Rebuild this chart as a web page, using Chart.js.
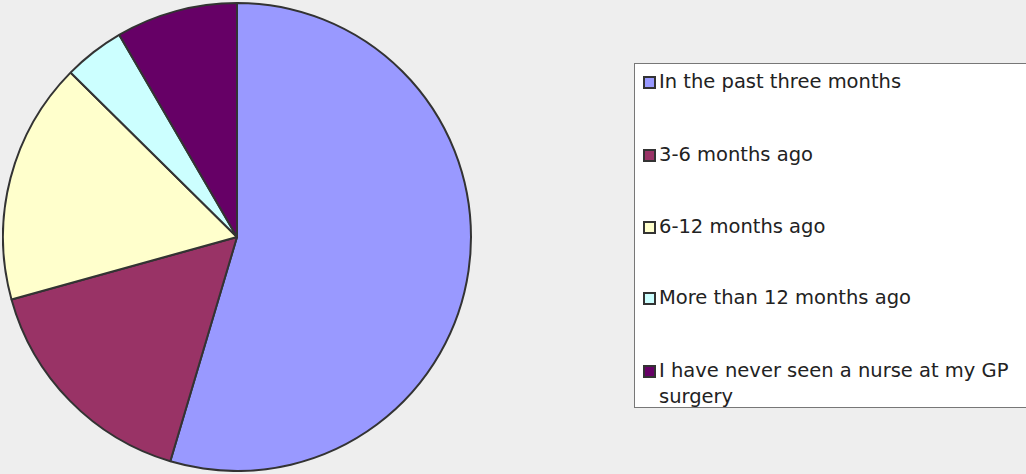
<!DOCTYPE html>
<html>
<head>
<meta charset="utf-8">
<script src="https://cdn.jsdelivr.net/npm/chart.js@4/dist/chart.umd.min.js"></script>
<style>
    body { margin: 0; background: #eeeeee; width: 1026px; height: 474px; overflow: hidden; position: relative; font-family: "DejaVu Sans", sans-serif; }
    #pie-wrap { position: absolute; left: 2px; top: 2px; width: 470px; height: 470px; }
    #legend { position: absolute; left: 634px; top: 63px; width: 400px; height: 345px; background: #ffffff; border: 1px solid #777777; box-sizing: border-box; }
    .item { position: absolute; left: 8px; font-size: 19.5px; color: #222; line-height: 26px; }
    .box { position: absolute; left: 0; top: 7px; width: 9px; height: 9px; border: 2px solid #333; }
    .label { margin-left: 16px; display: block; }
</style>
</head>
<body>
<div id="pie-wrap"><canvas id="pie"></canvas></div>
<div id="legend"></div>
<script>
// Chart data
const categories = ['In the past three months', '3-6 months ago', '6-12 months ago', 'More than 12 months ago', 'I have never seen a nurse at my GP surgery'];
const values = [54.6, 16.1, 16.7, 4.2, 8.4];
const colors = ['#9999ff', '#993366', '#ffffcc', '#ccffff', '#660066'];

document.addEventListener('DOMContentLoaded', function() {
    buildLegend();
    const ctx = document.getElementById('pie').getContext('2d');
    new Chart(ctx, {
        type: 'pie',
        data: {
            labels: categories,
            datasets: [{
                data: values,
                backgroundColor: colors,
                borderColor: '#333333',
                borderWidth: 2
            }]
        },
        options: {
            responsive: true,
            maintainAspectRatio: false,
            animation: false,
            layout: { padding: 0 },
            plugins: {
                legend: { display: false },
                tooltip: { enabled: false }
            }
        }
    });
});

// Legend drawn as html, one entry per category
function buildLegend() {
    const legend = document.getElementById('legend');
    const tops = [5, 78, 150, 221, 294];
    categories.forEach((cat, i) => {
        const item = document.createElement('div');
        item.className = 'item';
        item.style.top = tops[i] + 'px';
        item.style.width = '380px';
        item.innerHTML = '<span class="box" style="background:' + colors[i] + '"></span><span class="label">' + cat + '</span>';
        legend.appendChild(item);
    });
}
</script>
</body>
</html>
